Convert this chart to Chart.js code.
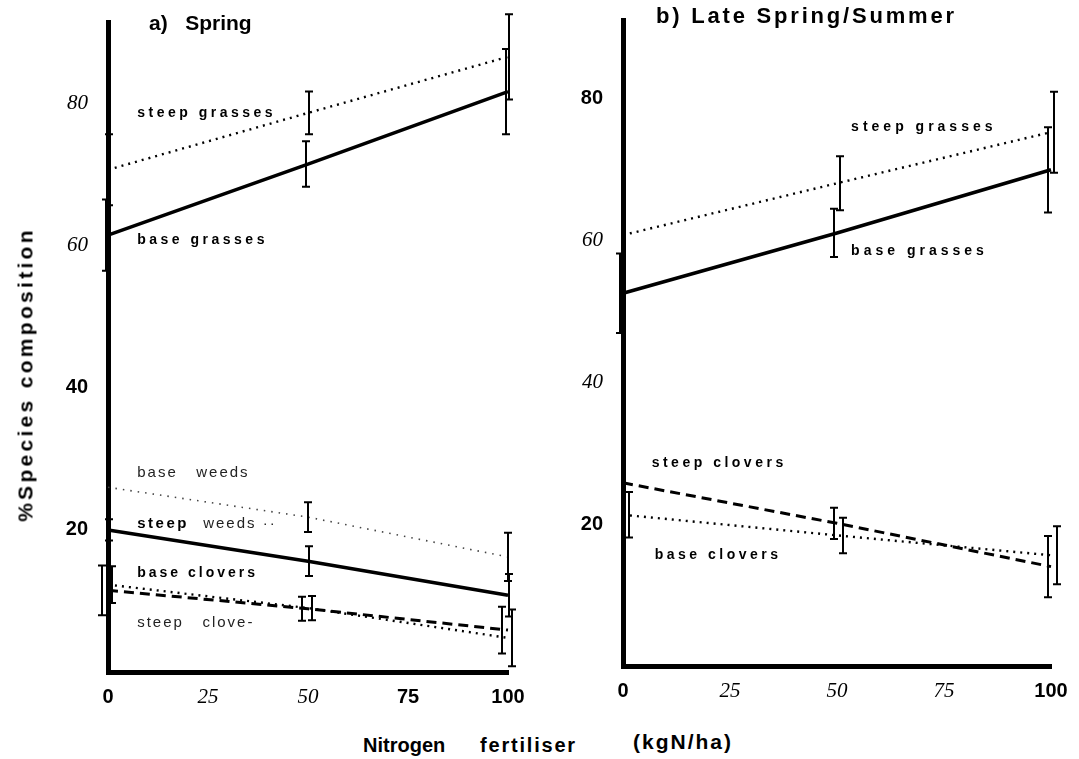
<!DOCTYPE html>
<html>
<head>
<meta charset="utf-8">
<script src="https://cdn.jsdelivr.net/npm/chart.js@4.4.0/dist/chart.umd.min.js"></script>
<style>
  body { margin: 0; background: #fff; width: 1079px; height: 759px; position: relative; overflow: hidden;
         font-family: "Liberation Sans", Arial, sans-serif; }
  #wa { position: absolute; left: 0; top: 0; width: 540px; height: 710px; }
  #wb { position: absolute; left: 540px; top: 0; width: 539px; height: 710px; }
  .t { position: absolute; font-weight: bold; white-space: nowrap; color: #000; line-height: 1; }
  #ytitle { left: -175px; top: 364px; width: 400px; text-align: center; font-size: 21px; letter-spacing: 3.3px;
            transform: rotate(-90deg); }
</style>
</head>
<body>
<div id="wa"><canvas id="ca"></canvas></div>
<div id="wb"><canvas id="cb"></canvas></div>

<div class="t" style="left:149px; top:12px; font-size:21px;">a)&nbsp;&nbsp; Spring</div>
<div class="t" style="left:656px; top:5px; font-size:22px; letter-spacing:2.8px;">b) Late Spring/Summer</div>
<div class="t" id="ytitle">%Species composition</div>
<div class="t" style="left:363px; top:735px; font-size:20px;">Nitrogen</div>
<div class="t" style="left:480px; top:735px; font-size:20px; letter-spacing:1.8px;">fertiliser</div>
<div class="t" style="left:633px; top:731px; font-size:21px; letter-spacing:2px;">(kgN/ha)</div>

<script>
// nitrogen rates (kgN/ha)
const nRates = [0, 50, 100];
const xTicks = [0, 25, 50, 75, 100];
const yTicks = [20, 40, 60, 80];

// a) Spring
const aSteepGrasses = [70.7, 78.7, 86.6];
const aSteepGrassesErr = [5, 3, 6];
const aBaseGrasses = [61.5, 71.5, 81.7];
const aBaseGrassesErr = [5, 3.2, 6];
const aSteepWeeds = [26, 21.8, 16.2];
const aSteepWeedsErr = [null, 2.1, 3.4];
const aBaseClovers = [20, 15.6, 10.8];
const aBaseCloversErr = [1.5, 2.1, 3];
const aSteepClovers = [11.5, 8.9, 5.9];
const aSteepCloversErr = [3.5, 1.7, 3.3];
const aBaseWeeds = [12.3, 9.0, 4.8];
const aBaseWeedsErr = [2.6, 1.7, 4];

// b) Late Spring/Summer
const bSteepGrasses = [60.7, 68.0, 75.2];
const bSteepGrassesErr = [null, 3.8, 5.7];
const bBaseGrasses = [52.5, 61.0, 69.9];
const bBaseGrassesErr = [5.6, 3.4, 6];
const bSteepClovers = [25.8, 20.1, 14.0];
const bSteepCloversErr = [null, 2.2, 4.3];
const bBaseClovers = [21.3, 18.4, 15.6];
const bBaseCloversErr = [3.2, 2.5, 4.1];

const pts = vals => nRates.map((x, i) => ({ x: x, y: vals[i] }));

const SANS_B = { family: '"Liberation Sans", Arial, sans-serif', weight: 'bold', size: 20 };
const SERIF_I = { family: '"Liberation Serif", "Times New Roman", serif', style: 'italic', size: 21 };

// draws the error bars kept on each dataset
const errorBars = {
  id: 'errorBars',
  afterDatasetsDraw(chart) {
    const ctx = chart.ctx;
    const ys = chart.scales.y;
    chart.data.datasets.forEach((ds, i) => {
      if (!ds.errors) return;
      const meta = chart.getDatasetMeta(i);
      ctx.save();
      ctx.strokeStyle = '#000';
      ctx.lineWidth = 2;
      meta.data.forEach((pt, j) => {
        const e = ds.errors[j];
        if (e == null) return;
        const v = ds.data[j].y;
        const x = pt.x + (ds.errShift || 0);
        const top = ys.getPixelForValue(v + e);
        const bot = ys.getPixelForValue(v - e);
        ctx.beginPath();
        ctx.moveTo(x, top); ctx.lineTo(x, bot);
        ctx.moveTo(x - 4, top); ctx.lineTo(x + 4, top);
        ctx.moveTo(x - 4, bot); ctx.lineTo(x + 4, bot);
        ctx.stroke();
      });
      ctx.restore();
    });
  }
};

function seriesLabels(items) {
  return {
    id: 'seriesLabels',
    afterDraw(chart) {
      const { ctx, scales } = chart;
      items.forEach(it => {
        ctx.save();
        ctx.font = it.font;
        ctx.letterSpacing = it.spacing || '0px';
        ctx.fillStyle = it.color || '#000';
        ctx.textBaseline = 'middle';
        ctx.fillText(it.text, scales.x.getPixelForValue(it.x), scales.y.getPixelForValue(it.y));
        ctx.restore();
      });
    }
  };
}

function line(vals, errs, style, shift) {
  const base = { data: pts(vals), errors: errs, errShift: shift || 0, borderColor: '#000',
                 pointRadius: 0, tension: 0, fill: false, clip: false };
  if (style === 'solid') return Object.assign(base, { borderWidth: 3.5 });
  if (style === 'dashed') return Object.assign(base, { borderWidth: 3, borderDash: [10, 6] });
  if (style === 'light') return Object.assign(base, { borderWidth: 1.6, borderColor: '#444', borderDash: [1.5, 6] });
  return Object.assign(base, { borderWidth: 2.4, borderDash: [2, 5] });
}

const pickFont = list => c => (c.tick && list.includes(c.tick.value)) ? SANS_B : SERIF_I;

function makeOptions(yMax, pad, yWidth, xHeight, yBold, xBold) {
  return {
    responsive: true,
    maintainAspectRatio: false,
    animation: false,
    layout: { padding: pad },
    plugins: { legend: { display: false }, tooltip: { enabled: false } },
    scales: {
      x: {
        type: 'linear', min: 0, max: 100,
        afterBuildTicks: s => { s.ticks = xTicks.map(v => ({ value: v })); },
        afterFit: s => { s.height = xHeight; s.paddingLeft = 0; s.paddingRight = 0; },
        grid: { display: false, drawTicks: false },
        border: { display: true, color: '#000', width: 5 },
        ticks: { padding: 13, color: '#000', maxRotation: 0, font: pickFont(xBold) }
      },
      y: {
        type: 'linear', min: 0, max: yMax,
        afterBuildTicks: s => { s.ticks = yTicks.map(v => ({ value: v })); },
        afterFit: s => { s.width = yWidth; s.paddingTop = 0; s.paddingBottom = 0; },
        grid: { display: false, drawTicks: false },
        border: { display: true, color: '#000', width: 5 },
        ticks: { padding: 20, color: '#000', font: pickFont(yBold) }
      }
    }
  };
}

const LB = 'bold 14px "Liberation Sans", Arial, sans-serif';
const LN = '15px "Liberation Sans", Arial, sans-serif';

new Chart(document.getElementById('ca'), {
  type: 'line',
  data: {
    datasets: [
      Object.assign(line(aSteepGrasses, aSteepGrassesErr, 'dotted', 1), { label: 'steep grasses' }),
      Object.assign(line(aBaseGrasses, aBaseGrassesErr, 'solid', -2), { label: 'base grasses' }),
      Object.assign(line(aSteepWeeds, aSteepWeedsErr, 'light', 0), { label: 'steep weeds' }),
      Object.assign(line(aBaseClovers, aBaseCloversErr, 'solid', 1), { label: 'base clovers' }),
      Object.assign(line(aSteepClovers, aSteepCloversErr, 'dashed', -6), { label: 'steep clovers' }),
      Object.assign(line(aBaseWeeds, aBaseWeedsErr, 'dotted', 4), { label: 'base weeds' })
    ]
  },
  options: makeOptions(91.5, { left: 0, right: 32, top: 22, bottom: 0 }, 108, 38, [40, 20], [0, 75, 100]),
  plugins: [errorBars, seriesLabels([
    { text: 'steep grasses', x: 7.3, y: 78.7, font: LB, spacing: '3.5px' },
    { text: 'base grasses', x: 7.3, y: 60.8, font: LB, spacing: '3.5px' },
    { text: 'base   weeds', x: 7.3, y: 28.0, font: LN, spacing: '2px', color: '#222' },
    { text: 'steep', x: 7.3, y: 20.8, font: 'bold 15px "Liberation Sans", Arial, sans-serif', spacing: '2.5px' },
    { text: 'weeds ··', x: 23.8, y: 20.8, font: LN, spacing: '2px', color: '#222' },
    { text: 'base clovers', x: 7.3, y: 13.9, font: LB, spacing: '3px' },
    { text: 'steep   clove-', x: 7.3, y: 6.9, font: LN, spacing: '2px', color: '#222' }
  ])]
});

new Chart(document.getElementById('cb'), {
  type: 'line',
  data: {
    datasets: [
      Object.assign(line(bSteepGrasses, bSteepGrassesErr, 'dotted', 3), { label: 'steep grasses' }),
      Object.assign(line(bBaseGrasses, bBaseGrassesErr, 'solid', -3), { label: 'base grasses' }),
      Object.assign(line(bSteepClovers, bSteepCloversErr, 'dashed', -3), { label: 'steep clovers' }),
      Object.assign(line(bBaseClovers, bBaseCloversErr, 'dotted', 6), { label: 'base clovers' })
    ]
  },
  options: makeOptions(91, { left: 0, right: 28, top: 20, bottom: 0 }, 83, 44, [80, 20], [0, 100]),
  plugins: [errorBars, seriesLabels([
    { text: 'steep grasses', x: 53.3, y: 75.9, font: LB, spacing: '4px' },
    { text: 'base grasses', x: 53.3, y: 58.5, font: LB, spacing: '4px' },
    { text: 'steep clovers', x: 6.7, y: 28.6, font: LB, spacing: '3.5px' },
    { text: 'base clovers', x: 7.4, y: 15.6, font: LB, spacing: '3.5px' }
  ])]
});
</script>
</body>
</html>
